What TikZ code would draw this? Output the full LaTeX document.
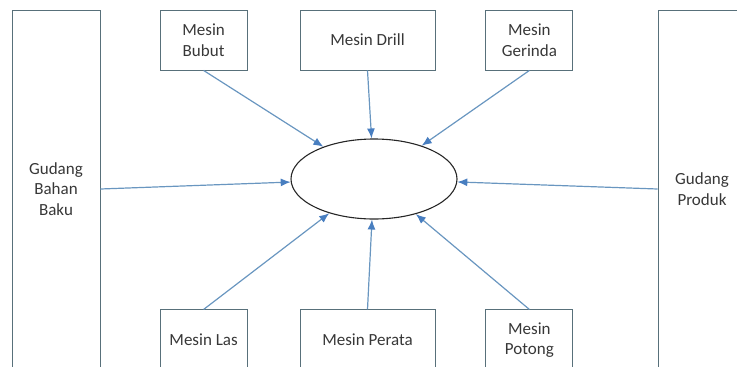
\documentclass[tikz,border=0pt]{standalone}
\usepackage{fontspec}
\setmainfont{Carlito}
\usepackage{xcolor}
\usepackage{tikz}
\usetikzlibrary{arrows.meta,positioning,shapes.geometric}

\definecolor{boxline}{RGB}{88,112,122}
\definecolor{arrline}{RGB}{105,150,192}
\definecolor{arrhead}{RGB}{72,126,192}
\definecolor{txt}{RGB}{55,55,55}

\begin{document}
\begin{tikzpicture}[
  x=1pt, y=-1pt,
  box/.style={rectangle, draw=boxline, line width=0.9pt, text=txt, align=center,
    minimum width=87pt, minimum height=60pt, font=\fontsize{17}{20.5}\selectfont},
  wide/.style={box, minimum width=135pt},
  tall/.style={box, minimum width=88pt, minimum height=358pt},
  proses/.style={ellipse, draw=black!85, line width=1.1pt, inner sep=0pt,
    minimum width=166pt, minimum height=80pt},
  arr/.style={-{Latex[length=10pt,width=8pt,color=arrhead]}, draw=arrline, line width=1.2pt}
]
\useasboundingbox (0,0) rectangle (737,367);
% pusat
\node[proses] (ell) at (374,179) {};
% mesin atas
\node[wide] (drill) at (367.5,40) {Mesin Drill};
\node[box, left=52pt of drill] (bubut) {Mesin\\Bubut};
\node[box, right=50pt of drill] (gerinda) {Mesin\\Gerinda};
% mesin bawah
\node[wide, below=239pt of drill] (perata) {Mesin Perata};
\node[box, below=239pt of bubut] (las) {Mesin Las};
\node[box, below=239pt of gerinda] (potong) {Mesin\\Potong};
% gudang
\node[tall] (gbb) at (56,189) {Gudang\\Bahan\\Baku};
\node[tall] (gp) at (702,189) {Gudang\\Produk};
% panah
\draw[arr] (gbb.east) -- (ell);
\draw[arr] (gp.west) -- (ell);
\draw[arr] (bubut.south) -- (ell);
\draw[arr] (drill.south) -- (ell);
\draw[arr] (gerinda.south) -- (ell);
\draw[arr] (las.north) -- (ell);
\draw[arr] (perata.north) -- (ell);
\draw[arr] (potong.north) -- (ell);
\end{tikzpicture}
\end{document}
